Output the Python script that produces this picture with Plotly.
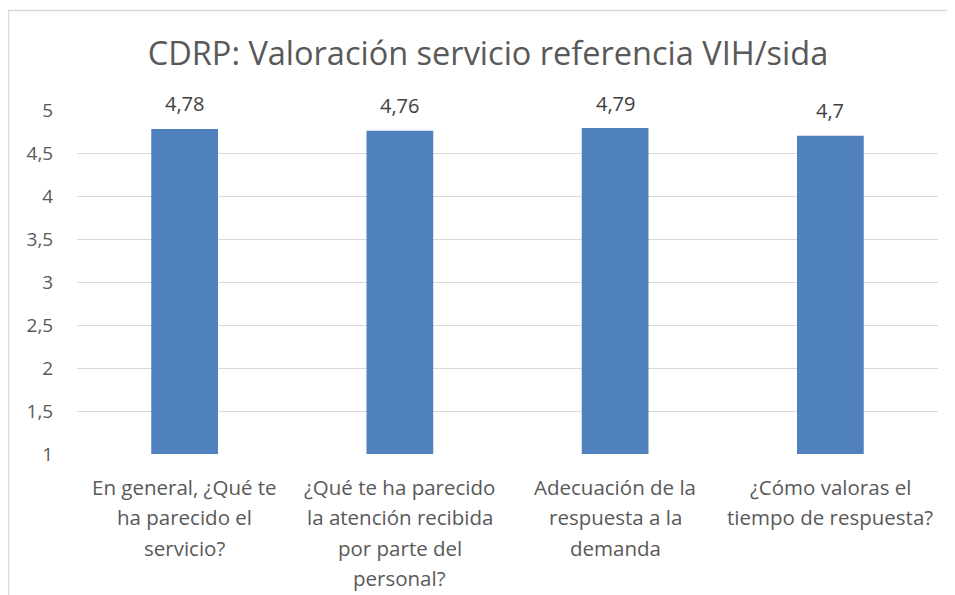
import plotly.graph_objects as go

categories = ["cat1", "cat2", "cat3", "cat4"]
category_lines = [
    ["En general, ¿Qué te", "ha parecido el", "servicio?"],
    ["¿Qué te ha parecido", "la atención recibida", "por parte del", "personal?"],
    ["Adecuación de la", "respuesta a la", "demanda"],
    ["¿Cómo valoras el", "tiempo de respuesta?"],
]
values = [4.78, 4.76, 4.79, 4.7]
value_labels = ["4,78", "4,76", "4,79", "4,7"]
y_ticks = [1, 1.5, 2, 2.5, 3, 3.5, 4, 4.5, 5]
y_tick_labels = ["1", "1,5", "2", "2,5", "3", "3,5", "4", "4,5", "5"]
title_text = "CDRP: Valoración servicio referencia VIH/sida"

OFF = 8  # page body margin
W, H = 955 - OFF, 595 - OFF
L, R, T, B = 77 - OFF, 17, 110 - OFF, 141
FONT = "Open Sans"
BAR = "#4F81BD"
GRID = "#D9D9D9"
TXT = "#595959"

def px_x(px):
    return (px - OFF - L) / (W - L - R)

def px_y(py):
    return (H - B - (py - OFF)) / (H - T - B)

fig = go.Figure(go.Bar(
    x=categories, y=values, marker=dict(color=BAR, line=dict(width=0)),
    hoverinfo="skip",
))

annotations = []
for c, v, t in zip(categories, values, value_labels):
    annotations.append(dict(x=c, y=v, xref="x", yref="y", text=t, showarrow=False,
                            yanchor="middle", yshift=25,
                            font=dict(family=FONT, size=20, color="#404040")))
for c, lines in zip(categories, category_lines):
    for i, ln in enumerate(lines):
        annotations.append(dict(x=c, y=0, xref="x", yref="paper", text=ln, showarrow=False,
                                yanchor="middle", yshift=-33 - 30.3 * i,
                                font=dict(family=FONT, size=20.5, color=TXT)))

fig.update_layout(
    width=W, height=H,
    margin=dict(l=L, r=R, t=T, b=B),
    paper_bgcolor="white", plot_bgcolor="white",
    bargap=0.69,
    showlegend=False,
    title=dict(text=title_text, x=(488 - OFF) / W, xref="container", xanchor="center",
               y=1 - (54 - OFF) / H, yref="container", yanchor="middle",
               font=dict(family=FONT, size=32.5, color=TXT)),
    xaxis=dict(showticklabels=False, showgrid=False, zeroline=False, showline=False,
               ticks=""),
    yaxis=dict(range=[1, 5], tickvals=y_ticks, ticktext=y_tick_labels,
               showgrid=True, gridcolor=GRID, gridwidth=1, zeroline=False,
               showline=False, ticks="outside", ticklen=19, tickcolor="rgba(0,0,0,0)",
               tickfont=dict(family=FONT, size=19, color=TXT)),
    annotations=annotations,
    shapes=[dict(type="rect", xref="paper", yref="paper",
                 x0=px_x(OFF + 0.5), x1=px_x(955 + 20), y0=px_y(595 + 20), y1=px_y(10.5),
                 line=dict(color=GRID, width=1.5), fillcolor="rgba(0,0,0,0)", layer="below")],
)

fig.write_html("out.html")
